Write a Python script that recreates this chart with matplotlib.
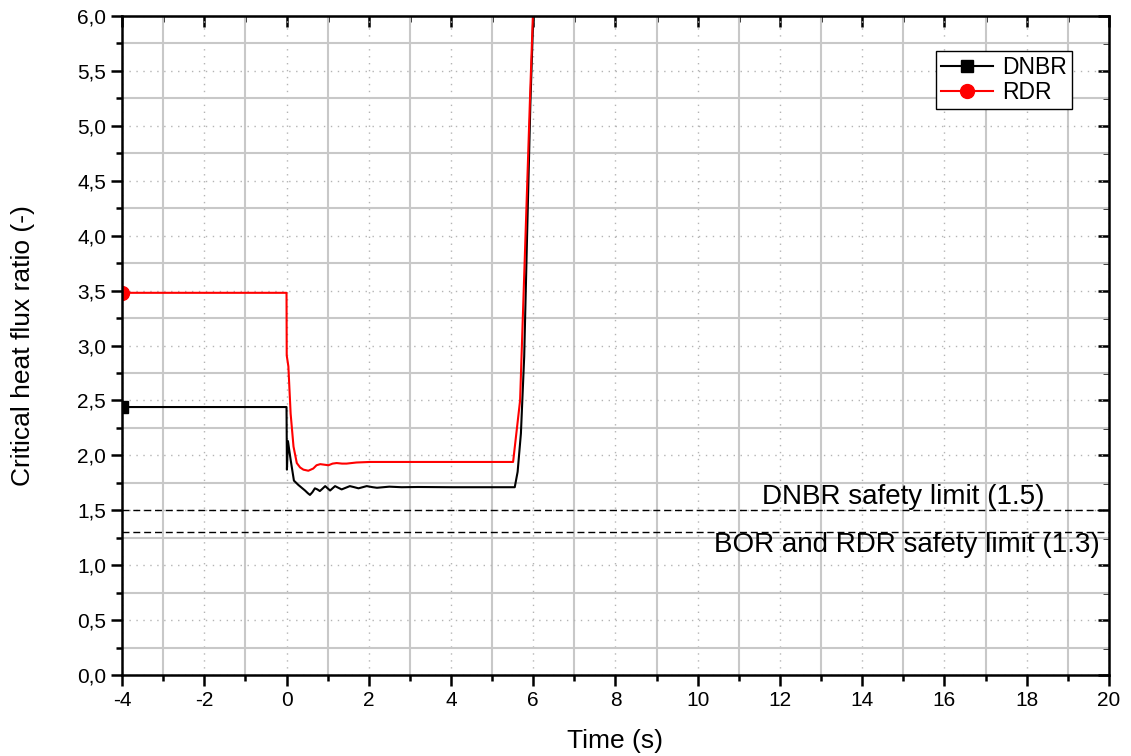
import numpy as np
import matplotlib
matplotlib.use('Agg')
import matplotlib.pyplot as plt
from matplotlib.ticker import MultipleLocator, FuncFormatter

plt.rcParams['font.family'] = ['Liberation Sans', 'DejaVu Sans']
plt.rcParams['axes.unicode_minus'] = False

# DNBR curve
t_dnbr = [-4, 0, 0.01, 0.035, 0.1, 0.18, 0.29, 0.45, 0.52, 0.57, 0.63, 0.69, 0.75,
          0.81, 0.87, 0.94, 1.0, 1.06, 1.12, 1.18, 1.26, 1.34, 1.44, 1.54, 1.65,
          1.75, 1.85, 1.95, 2.1, 2.2, 2.35, 2.5, 2.8, 3.2, 4.0, 5.55, 5.62, 5.7,
          5.78, 5.85, 5.93, 6.01]
dnbr = [2.44, 2.44, 1.87, 2.13, 1.96, 1.77, 1.73, 1.68, 1.655, 1.64, 1.665, 1.70, 1.69,
        1.675, 1.695, 1.72, 1.70, 1.68, 1.70, 1.72, 1.705, 1.69, 1.705, 1.72, 1.71,
        1.70, 1.71, 1.72, 1.71, 1.705, 1.71, 1.715, 1.71, 1.712, 1.71, 1.71, 1.85, 2.2,
        2.9, 4.0, 5.2, 6.1]

# RDR curve
t_rdr = [-4, 0, 0.005, 0.045, 0.1, 0.17, 0.25, 0.33, 0.41, 0.53, 0.65, 0.73, 0.82,
         0.92, 1.02, 1.12, 1.22, 1.35, 1.46, 1.7, 2.03, 3.0, 4.0, 5.51, 5.68, 5.76,
         5.84, 5.92, 6.0]
rdr = [3.48, 3.48, 2.91, 2.81, 2.38, 2.08, 1.93, 1.89, 1.87, 1.86, 1.88, 1.91, 1.92,
       1.915, 1.91, 1.925, 1.93, 1.925, 1.925, 1.935, 1.94, 1.94, 1.94, 1.94, 2.50, 3.41,
       4.32, 5.24, 6.1]

# safety limits
dnbr_limit = 1.5
rdr_limit = 1.3

fig = plt.figure(figsize=(11.31, 7.56), dpi=100)
ax = fig.add_axes([0.1079, 0.1071, 0.8726, 0.8717])

ax.set_xlim(-4, 20)
ax.set_ylim(0, 6)
ax.xaxis.set_major_locator(MultipleLocator(2))
ax.xaxis.set_minor_locator(MultipleLocator(1))
ax.yaxis.set_major_locator(MultipleLocator(0.5))
ax.yaxis.set_minor_locator(MultipleLocator(0.25))
ax.yaxis.set_major_formatter(FuncFormatter(lambda v, p: f'{v:.1f}'.replace('.', ',')))

# Origin style grid: dotted major, solid minor
ax.grid(True, which='major', color='#b4b4b4', linestyle=(0, (1, 4)), linewidth=1.0)
ax.grid(True, which='minor', color='#c8c8c8', linestyle='-', linewidth=1.5)
ax.set_axisbelow(True)

ax.plot(t_dnbr, dnbr, color='black', lw=1.5, marker='s', markersize=8.5,
        markevery=[0], label='DNBR')
ax.plot(t_rdr, rdr, color='red', lw=1.5, marker='o', markersize=10,
        markevery=[0], label='RDR')

ax.axhline(dnbr_limit, color='black', lw=1.0, ls=(0, (5, 2.8)))
ax.axhline(rdr_limit, color='black', lw=1.0, ls=(0, (5, 2.8)))
ax.text(14.99, 1.62, 'DNBR safety limit (1.5)', fontsize=20, ha='center', va='center')
ax.text(15.08, 1.18, 'BOR and RDR safety limit (1.3)', fontsize=20, ha='center', va='center')

for s in ax.spines.values():
    s.set_linewidth(1.8)
ax.tick_params(which='both', direction='out', width=1.8, labelsize=15)
ax.tick_params(which='major', length=8)
ax.tick_params(which='minor', length=4)

# inward ticks on top and right
top = ax.secondary_xaxis('top')
top.xaxis.set_major_locator(MultipleLocator(2))
top.xaxis.set_minor_locator(MultipleLocator(1))
top.tick_params(which='both', direction='in', width=1.8, labeltop=False)
top.tick_params(which='major', length=8)
top.tick_params(which='minor', length=4)
right = ax.secondary_yaxis('right')
right.yaxis.set_major_locator(MultipleLocator(0.5))
right.yaxis.set_minor_locator(MultipleLocator(0.25))
right.tick_params(which='both', direction='in', width=1.8, labelright=False)
right.tick_params(which='major', length=8)
right.tick_params(which='minor', length=4)

ax.set_xlabel('Time (s)', fontsize=19, labelpad=14)
ax.set_ylabel('Critical heat flux ratio (-)', fontsize=19, labelpad=30)

leg = ax.legend(loc='upper right', bbox_to_anchor=(0.9625, 0.947), fontsize=16.5,
                fancybox=False, edgecolor='black', framealpha=1, handlelength=2.3,
                borderpad=0.2, labelspacing=0.12, handletextpad=0.4, borderaxespad=0)
leg.get_frame().set_linewidth(1.0)

fig.savefig('out.png', dpi=100)
